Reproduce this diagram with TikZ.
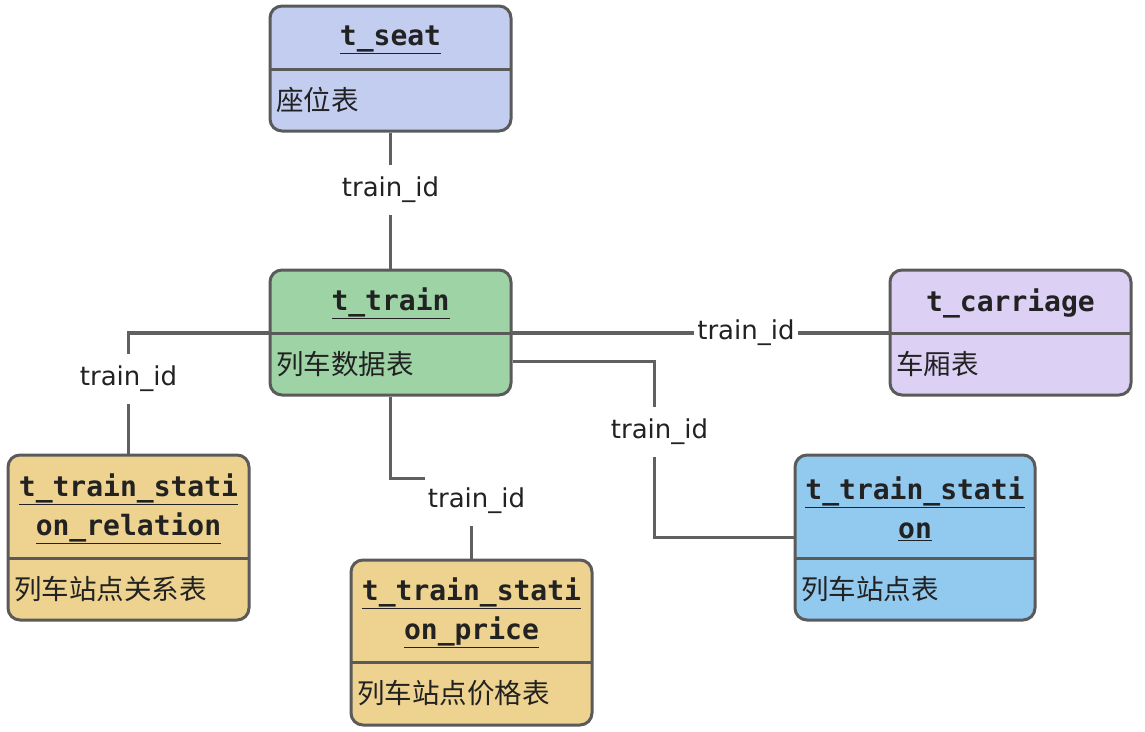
\documentclass[tikz,border=0pt]{standalone}
\usepackage{fontspec}
\setmonofont{DejaVu Sans Mono}
\newfontfamily\cjkfont{Noto Sans CJK SC}
\newfontfamily\labelfont{DejaVu Sans}
\usetikzlibrary{positioning}

\definecolor{seatblue}{HTML}{C3CDF0}
\definecolor{traingreen}{HTML}{9DD3A5}
\definecolor{carriagepurple}{HTML}{DCD0F4}
\definecolor{stationyellow}{HTML}{EDD38F}
\definecolor{stationblue}{HTML}{92C9EE}
\definecolor{edgegray}{HTML}{5A5A5A}
\definecolor{linkgray}{HTML}{606060}
\definecolor{inkdark}{HTML}{222222}

\tikzset{
  entity/.style={draw=edgegray, line width=3pt, rounded corners=12pt, inner sep=0pt},
  divider/.style={draw=edgegray, line width=3pt},
  titletext/.style={font=\ttfamily\bfseries\fontsize{28}{39}\selectfont, text=inkdark, align=center},
  bodytext/.style={font=\cjkfont\fontsize{27.5}{30}\selectfont, text=inkdark, anchor=west, inner sep=0pt},
  link/.style={draw=linkgray, line width=3.5pt},
  lbl/.style={fill=white, font=\labelfont\fontsize{26}{30}\selectfont, text=inkdark, inner xsep=3pt, minimum height=50pt}
}

\begin{document}
\begin{tikzpicture}[x=1pt,y=-1pt]
\useasboundingbox (0,0) rectangle (1145,731);
% tables
\foreach \n/\x/\y/\w/\h/\th/\c/\t/\b in {
  seat/270/6/241/125/63/seatblue/{\underline{t\_seat}}/座位表,
  train/270/270/241/125/63/traingreen/{\underline{t\_train}}/列车数据表,
  carriage/890/270/241/125/63/carriagepurple/{t\_carriage}/车厢表,
  rel/8/455/241/165/103/stationyellow/{\underline{t\_train\_stati}\\\underline{on\_relation}}/列车站点关系表,
  price/351/560/241/165/102/stationyellow/{\underline{t\_train\_stati}\\\underline{on\_price}}/列车站点价格表,
  station/795/455/240/165/103/stationblue/{\underline{t\_train\_stati}\\\underline{on}}/列车站点表}
{\pgfmathsetmacro{\cx}{\x+\w/2}
\pgfmathsetmacro{\cy}{\y+\h/2}
\pgfmathsetmacro{\dy}{\y+\th}
\pgfmathsetmacro{\ty}{\y+\th/2+2}
\pgfmathsetmacro{\by}{\dy+(\h-\th)/2}
\pgfmathsetmacro{\xr}{\x+\w}
\node[entity, fill=\c, minimum width=\w, minimum height=\h] (\n) at (\cx,\cy) {};
\draw[divider] (\x,\dy) coordinate (\n-divw) -- (\xr,\dy) coordinate (\n-dive);
\node[titletext] (\n-title) at (\cx,\ty) {\t};
\node[bodytext] (\n-body) at (\x+6,\by) {\b};
}
% relations
\coordinate (train-out) at ([yshift=-29pt]train.east);
\draw[link] (seat.south) -- node[lbl, pos=0.42] {train\_id} (train.north);
\draw[link] (train-dive) -- node[lbl, pos=0.62] {train\_id} (carriage-divw);
\draw[link] (train-divw) -| node[lbl, pos=0.69] {train\_id} (rel.north);
\draw[link] (train.south) -- ++(0,82) -| node[lbl, pos=0.64, xshift=5pt] {train\_id} (price.north);
\draw[link] (train-out) -- ++(142,0) |- node[lbl, pos=0.2, xshift=5pt] {train\_id} (station.west);
\end{tikzpicture}
\end{document}
